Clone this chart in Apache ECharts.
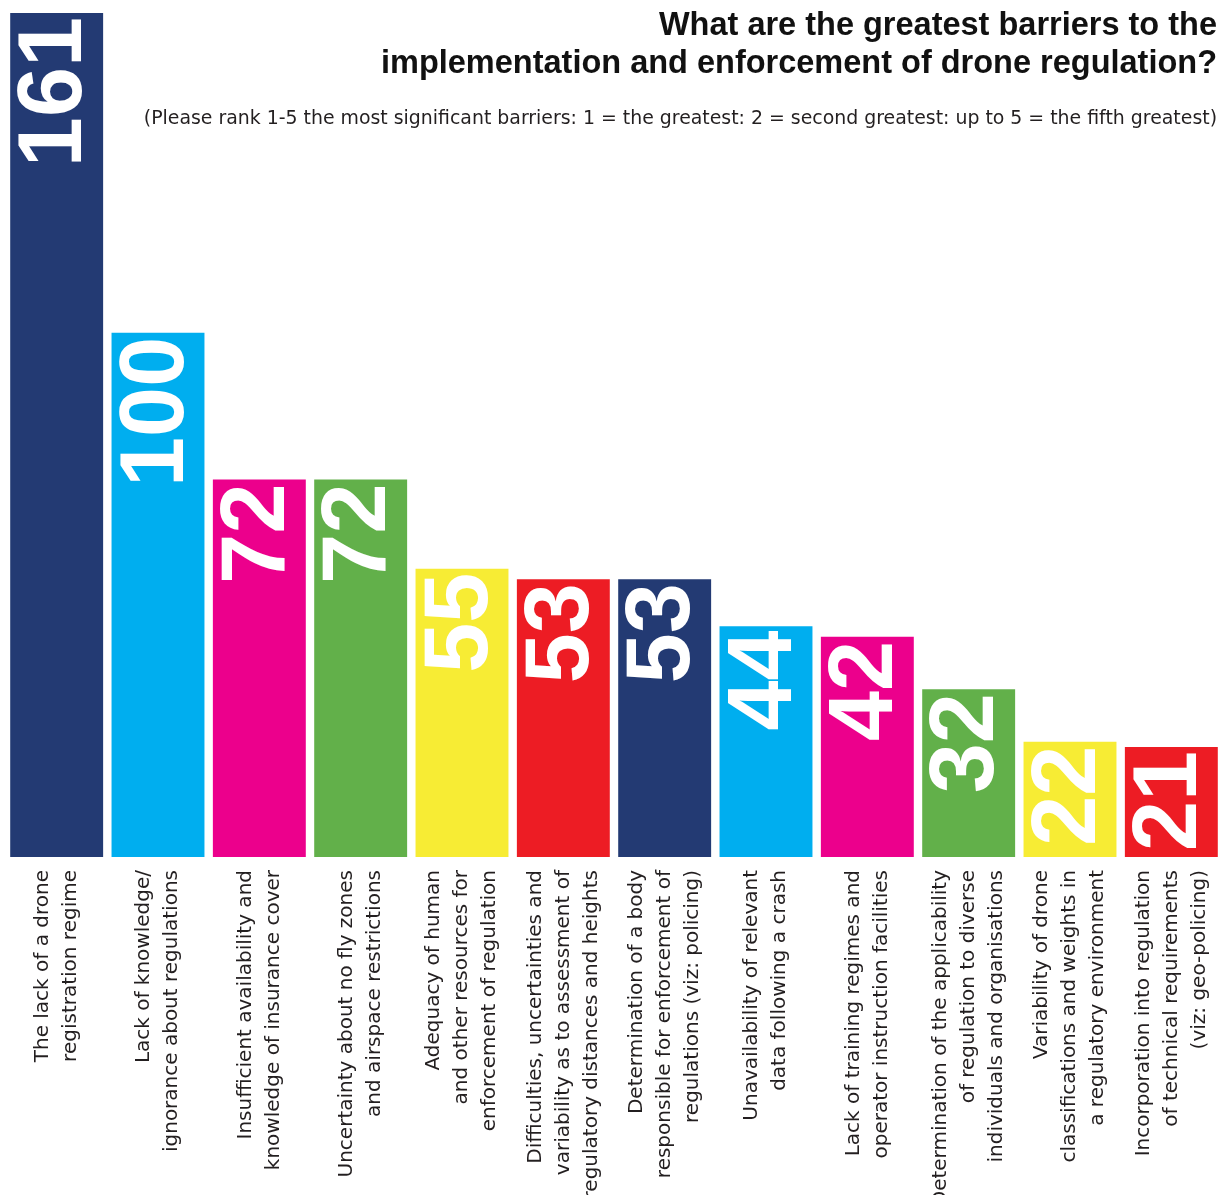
<!DOCTYPE html>
<html>
<head>
<meta charset="utf-8">
<title>Barriers to drone regulation</title>
<script src="https://cdn.jsdelivr.net/npm/echarts@6/dist/echarts.min.js"></script>
<style>
  html, body { margin: 0; padding: 0; background: #ffffff; }
  #chart { width: 1227px; height: 1195px; }
</style>
</head>
<body>
<div id="chart"></div>
<script>
// Survey ranking: greatest barriers to drone regulation
const categories = [
  'The lack of a drone\nregistration regime',
  'Lack of knowledge/\nignorance about regulations',
  'Insufficient availability and\nknowledge of insurance cover',
  'Uncertainty about no fly zones\nand airspace restrictions',
  'Adequacy of human\nand other resources for\nenforcement of regulation',
  'Difficulties, uncertainties and\nvariability as to assessment of\nregulatory distances and heights',
  'Determination of a body\nresponsible for enforcement of\nregulations (viz: policing)',
  'Unavailability of relevant\ndata following a crash',
  'Lack of training regimes and\noperator instruction facilities',
  'Determination of the applicability\nof regulation to diverse\nindividuals and organisations',
  'Variability of drone\nclassifications and weights in\na regulatory environment',
  'Incorporation into regulation\nof technical requirements\n(viz: geo-policing)'
];
const scores = [161, 100, 72, 72, 55, 53, 53, 44, 42, 32, 22, 21];

const palette = ['#233a73', '#00aeef', '#ec008c', '#62b04a', '#f7ec34', '#ed1c24'];

const titleLines = [
  'What are the greatest barriers to the',
  'implementation and enforcement of drone regulation?'
];
const subtitleText = '(Please rank 1-5 the most significant barriers: 1 = the greatest: 2 = second greatest: up to 5 = the fifth greatest)';

const FONT = 'DejaVu Sans';

const chart = echarts.init(document.getElementById('chart'), null, { renderer: 'canvas' });

const titleStyle = {
  fontFamily: 'Liberation Sans',
  fontWeight: 'bold',
  fontSize: 32.5,
  color: '#111111'
};

chart.setOption({
  backgroundColor: '#ffffff',
  animation: false,
  title: [
    { text: titleLines[0], right: 10, top: 10, padding: 0, textStyle: titleStyle },
    { text: titleLines[1], right: 10, top: 48, padding: 0, textStyle: titleStyle },
    {
      text: subtitleText,
      right: 10,
      top: 110,
      padding: 0,
      textStyle: {
        fontFamily: FONT,
        fontWeight: 'normal',
        fontSize: 18.9,
        color: '#231f20'
      }
    }
  ],
  grid: {
    left: 6,
    right: 5,
    top: 13,
    bottom: 338,
    containLabel: false,
    outerBoundsMode: 'none'
  },
  xAxis: {
    type: 'category',
    data: categories,
    axisLine: { show: false },
    axisTick: { show: false },
    axisLabel: {
      interval: 0,
      rotate: 90,
      margin: 13,
      fontFamily: FONT,
      fontSize: 20,
      lineHeight: 28,
      color: '#231f20'
    }
  },
  yAxis: {
    type: 'value',
    min: 0,
    max: 161,
    show: false,
    splitLine: { show: false }
  },
  series: [
    {
      type: 'bar',
      data: scores,
      barCategoryGap: '8.3%',
      itemStyle: {
        color: (p) => palette[p.dataIndex % palette.length]
      },
      label: {
        show: true,
        position: 'insideTop',
        distance: 4,
        rotate: 90,
        align: 'right',
        verticalAlign: 'middle',
        color: '#ffffff',
        fontFamily: 'Liberation Sans',
        fontWeight: 'bold',
        fontSize: 90
      }
    }
  ]
});
</script>
</body>
</html>
